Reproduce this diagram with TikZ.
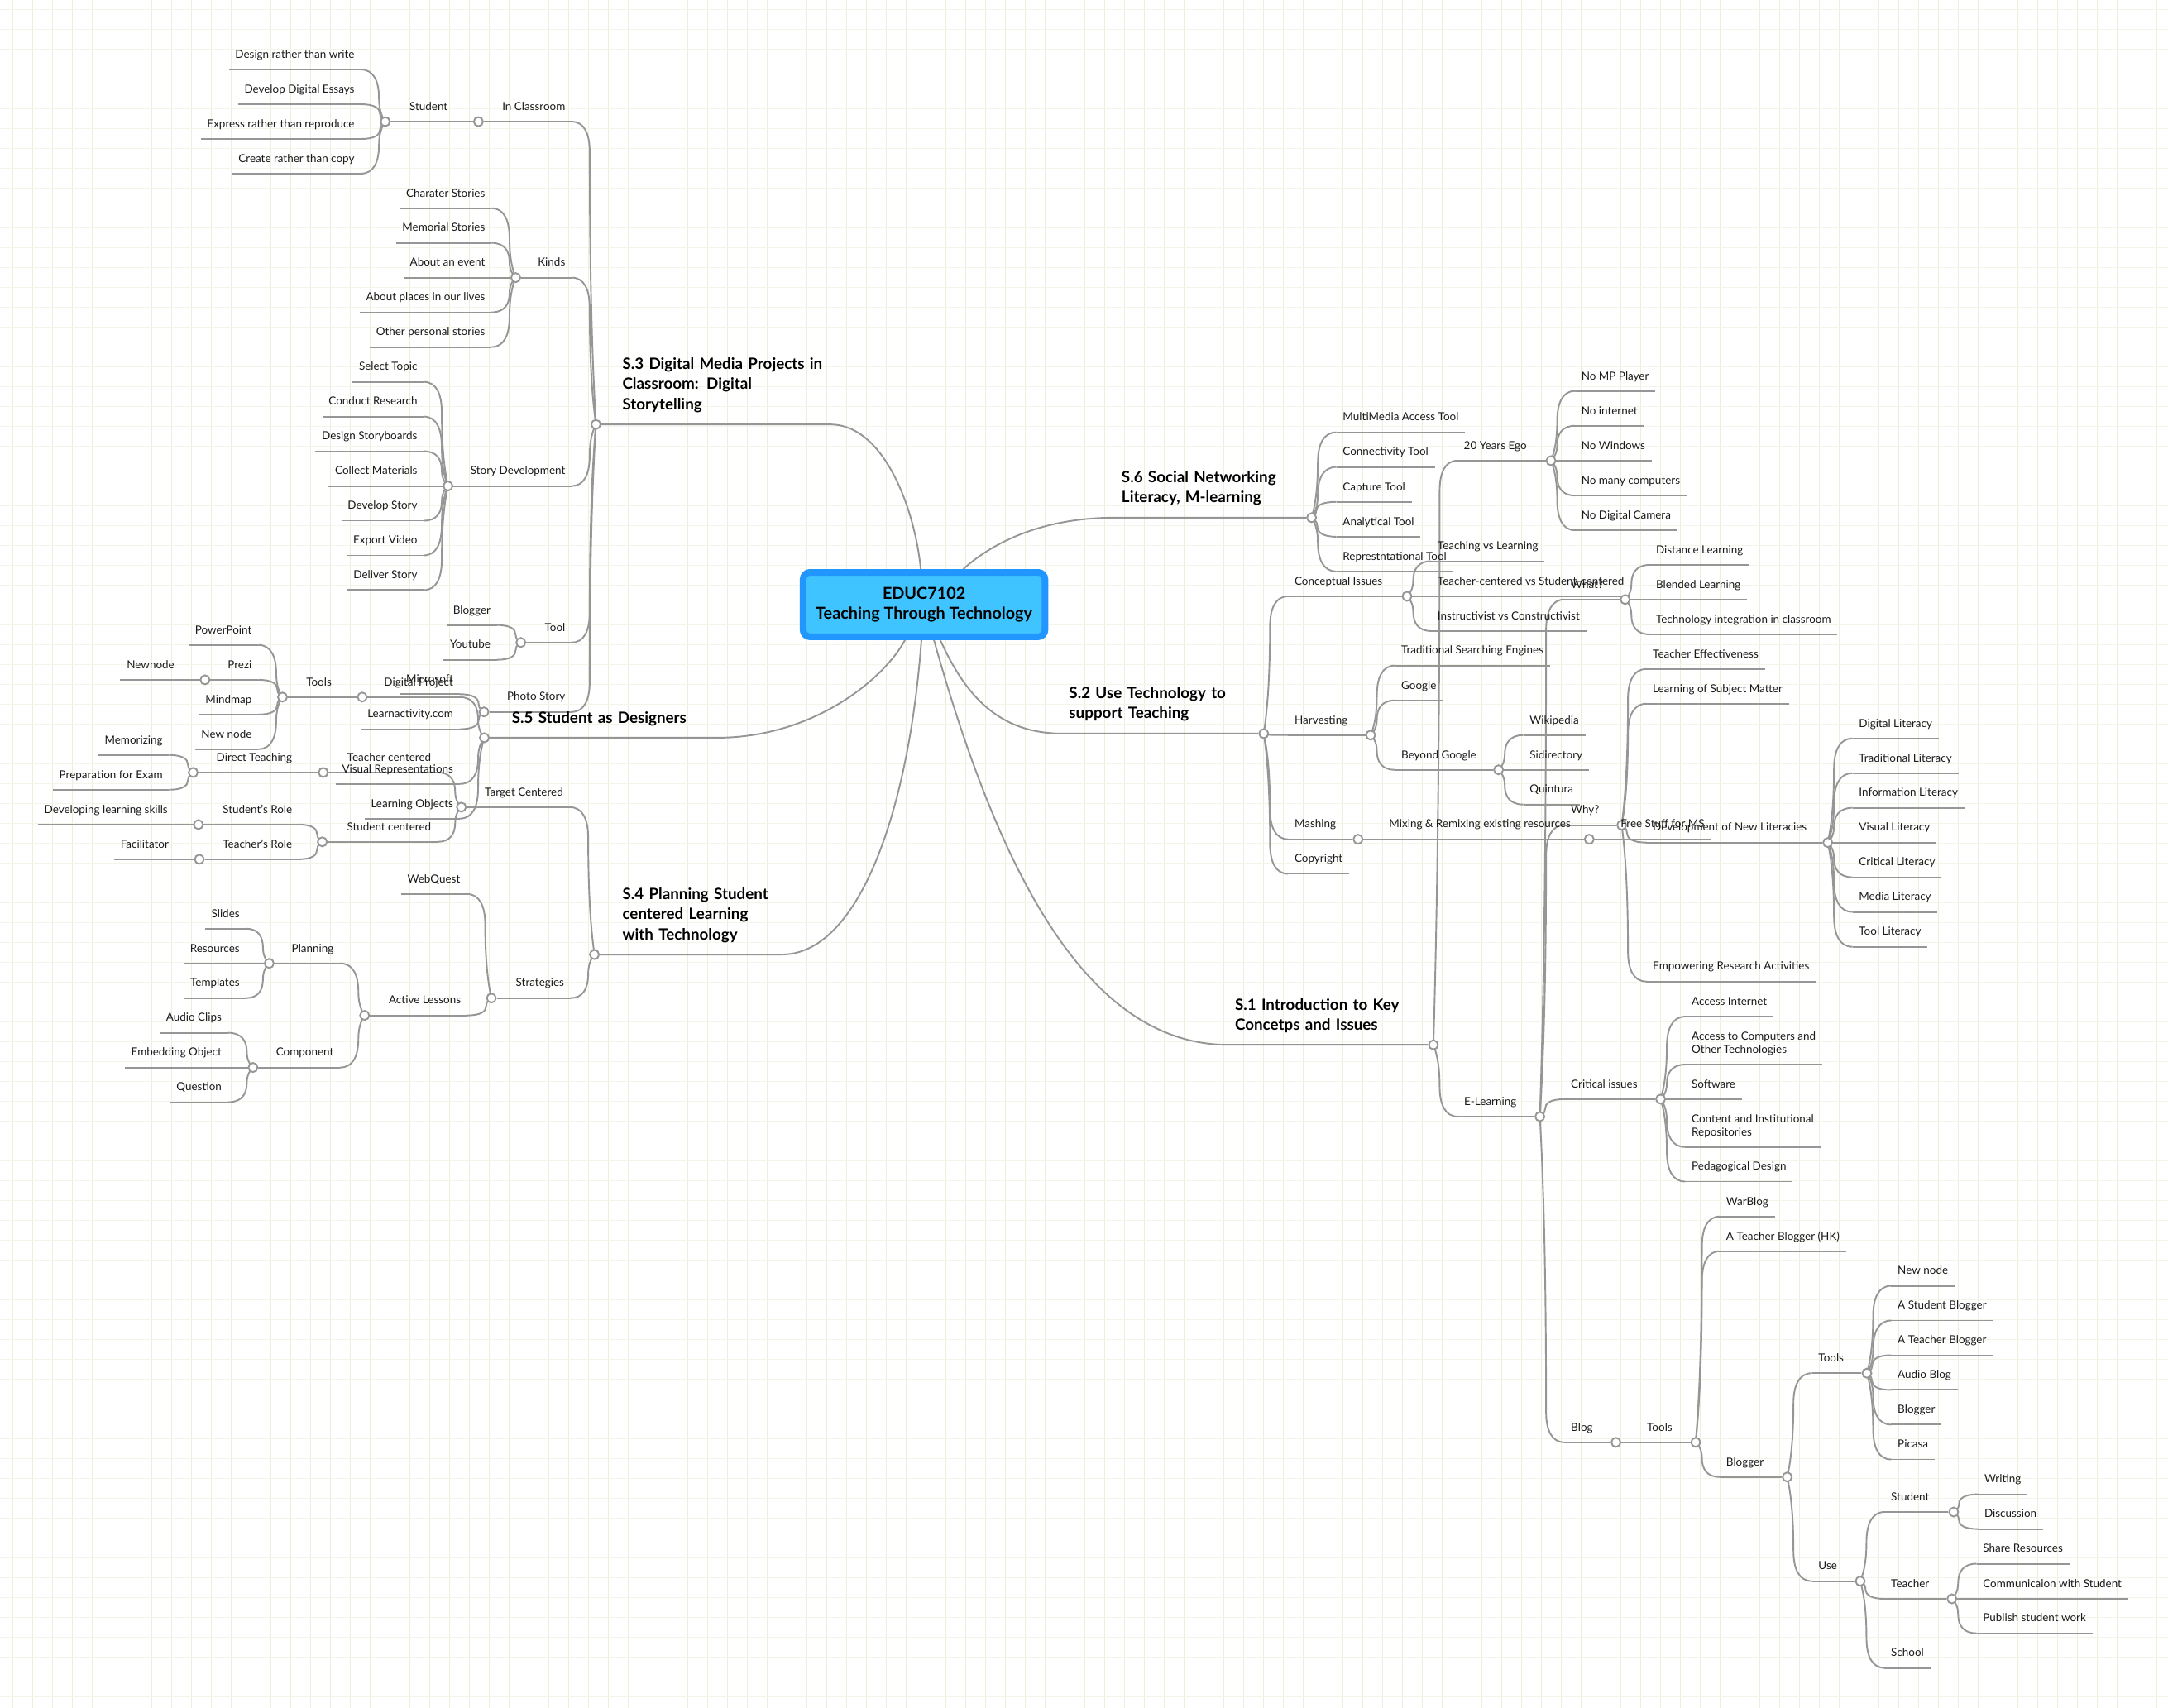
\documentclass[tikz,border=0pt]{standalone}
\usepackage{fontspec}
\setmainfont{Lato}
\usetikzlibrary{calc}
\pgfdeclarelayer{grid}
\pgfdeclarelayer{links}
\pgfsetlayers{grid,links,main}
\definecolor{linkgray}{HTML}{969696}
\definecolor{gridv}{HTML}{E9F1DC}
\definecolor{gridh}{HTML}{F2F6E9}
\definecolor{centerfill}{HTML}{40C4FF}
\definecolor{centerline}{HTML}{2196FF}
\definecolor{inkblack}{HTML}{1A1A1A}
\tikzset{
  link/.style={draw=linkgray, line width=1.15pt},
  hub/.style={circle, draw=linkgray, fill=white, line width=1.15pt, inner sep=0pt, minimum size=6.6pt},
  topic/.style={font=\fontsize{8.05}{9.5}\selectfont, text=inkblack, inner xsep=4.5pt, inner ysep=8pt, text depth=0pt},
  maintopic/.style={font=\fontsize{11.25}{14.5}\selectfont\bfseries, text=black, inner xsep=4.5pt, inner ysep=8.5pt, align=left},
  centertopic/.style={rectangle, rounded corners=5pt, draw=centerline, fill=centerfill, line width=4.8pt,
    minimum width=174.9pt, minimum height=46.6pt, font=\fontsize{11.85}{14.5}\selectfont\bfseries, align=center}
}
% curve from the near end of a topic's underline into its parent hub
\newcommand{\twig}[3]{%
  \draw[link] let \p1=(#1), \p2=(#2.south #3),
      \n1={min(22pt,.55*abs(\y1-\y2))}, \n2={\y1>\y2?1:-1}, \n3={\x1>\x2?1:-1},
      \n4={min(4.5pt,.3*abs(\y1-\y2))}, \n5={abs(\y1-\y2)-\n1} in
    (\p2) .. controls ({\x2+.7*(\x1-\x2-\n3*\n4)},\y2) and ({\x1-\n3*\n4},{\y2+\n2*.4*\n1}) ..
    ({\x1-\n3*\n4},{\y2+\n2*\n1}) .. controls ({\x1-\n3*\n4},{\y2+\n2*(\n1+.6*\n5)}) and ({\x1-.3*\n3*\n4},{\y1-\n2*.12*\n5}) .. (\p1);}
\newcommand{\under}[2]{\draw[link] (#1) -- (#2);}
% links wait here and all go on their layer at the end
\gdef\linklist{}
\newcommand{\addlink}[1]{\xdef\linklist{\unexpanded\expandafter{\linklist}#1}}
% parent, name, x, y, text
\newcommand{\leafL}[5]{\node[topic,anchor=south east] (#2) at (#3,#4) {#5};
  \addlink{\noexpand\twig{#1}{#2}{east}\noexpand\under{#2.south west}{#2.south east}}}
\newcommand{\leafR}[5]{\node[topic,anchor=south west] (#2) at (#3,#4) {#5};
  \addlink{\noexpand\twig{#1}{#2}{west}\noexpand\under{#2.south west}{#2.south east}}}
% parent, name, x, y, text, x of own hub
\newcommand{\forkL}[6]{\node[topic,anchor=south east] (#2) at (#3,#4) {#5};
  \node[hub] (#2h) at (#6,#4) {};
  \addlink{\noexpand\twig{#1}{#2}{east}\noexpand\under{#2h}{#2.south east}}}
\newcommand{\forkR}[6]{\node[topic,anchor=south west] (#2) at (#3,#4) {#5};
  \node[hub] (#2h) at (#6,#4) {};
  \addlink{\noexpand\twig{#1}{#2}{west}\noexpand\under{#2h}{#2.south west}}}
\newcommand{\twolines}[2]{\vbox{\baselineskip=9.5pt\hbox{#1}\hbox{#2}}}
\begin{document}
\begin{tikzpicture}[x=1pt,y=-1pt]
\useasboundingbox (0,0) rectangle (1568,1235.35);
\begin{pgfonlayer}{grid}
\fill[white] (0,0) rectangle (1568,1235.35);
\foreach \i in {0,...,108}{\draw[gridv,line width=.6pt] ({9.57+14.357*\i},0) -- ++(0,1235.35);}
\foreach \i in {0,...,85}{\draw[gridh,line width=.6pt] (0,{7.18+14.357*\i}) -- ++(1568,0);}
\end{pgfonlayer}

\node[centertopic] (center) at (668.3,437.3) {EDUC7102\\Teaching Through Technology};

% main topics
\node[maintopic,anchor=south west,text width=145.5pt] (s3) at (445.5,307) {S.3 Digital Media Projects in\\Classroom: Digital\\Storytelling};
\node[hub] (s3h) at (431,307) {};
\node[maintopic,anchor=south west,text width=145pt] (s5) at (365.5,533.6) {S.5 Student as Designers};
\node[hub] (s5h) at (350.3,533.6) {};
\node[maintopic,anchor=south west,text width=110.5pt] (s4) at (445.5,690.4) {S.4 Planning Student\\centered Learning\\with Technology};
\node[hub] (s4h) at (429.9,690.4) {};
\node[maintopic,anchor=south west,text width=140pt] (s6) at (806.5,374.4) {S.6 Social Networking\\Literacy, M-learning};
\node[hub] (s6h) at (948.6,374.4) {};
\node[maintopic,anchor=south west,text width=140pt] (s2) at (768.5,530.6) {S.2 Use Technology to\\support Teaching};
\node[hub] (s2h) at (914,530.6) {};
\node[maintopic,anchor=south west,text width=140pt] (s1) at (888.5,755.7) {S.1 Introduction to Key\\Concetps and Issues};
\node[hub] (s1h) at (1036.7,755.7) {};

% S.3
\forkL{s3h}{classroom}{413.5}{88}{In Classroom}{346}
\forkL{classroomh}{student}{328.5}{88}{Student}{278.6}
\foreach \k/\ypos/\txt in {a/50.3/Design rather than write,b/75.4/Develop Digital Essays,c/100.5/Express rather than reproduce,d/125.6/Create rather than copy}{
  \leafL{studenth}{st\k}{261}{\ypos}{\txt}}
\forkL{s3h}{kinds}{413.5}{200.8}{Kinds}{373}
\foreach \k/\ypos/\txt in {a/150.6/Charater Stories,b/175.7/Memorial Stories,c/200.8/About an event,d/225.9/About places in our lives,e/251/Other personal stories}{
  \leafL{kindsh}{kd\k}{355.5}{\ypos}{\txt}}
\forkL{s3h}{storydev}{413.5}{351.5}{Story Development}{324}
\foreach \k/\ypos/\txt in {a/276.2/Select Topic,b/301.3/Conduct Research,c/326.4/Design Storyboards,d/351.5/Collect Materials,e/376.6/Develop Story,f/401.7/Export Video,g/426.8/Deliver Story}{
  \leafL{storydevh}{sd\k}{306.5}{\ypos}{\txt}}
\forkL{s3h}{tool}{413.5}{464.7}{Tool}{376.7}
\leafL{toolh}{blogger}{359.5}{452.1}{Blogger}
\leafL{toolh}{youtube}{359.5}{477.2}{Youtube}
\forkL{s3h}{photostory}{413.5}{514.9}{Photo Story}{350}
\leafL{photostoryh}{microsoft}{332.5}{502.1}{Microsoft}
\leafL{photostoryh}{learnactivity}{332.5}{527.4}{Learnactivity.com}

% S.5
\forkL{s5h}{digproject}{332.5}{504.2}{Digital Project}{262}
\forkL{digprojecth}{ltools}{244.5}{504.2}{Tools}{204.3}
\leafL{ltoolsh}{powerpoint}{186.8}{466.5}{PowerPoint}
\forkL{ltoolsh}{prezi}{186.8}{491.7}{Prezi}{148.3}
\leafL{prezih}{newnodeb}{130.8}{491.7}{Newnode}
\leafL{ltoolsh}{mindmap}{186.8}{516.8}{Mindmap}
\leafL{ltoolsh}{newnodec}{186.8}{541.9}{New node}
\leafL{s5h}{visualrep}{332.5}{567}{Visual Representations}
\leafL{s5h}{learnobj}{332.5}{592.1}{Learning Objects}

% S.4
\forkL{s4h}{target}{412}{583.8}{Target Centered}{333.7}
\forkL{targeth}{teachercen}{316.5}{558.7}{Teacher centered}{233.8}
\forkL{teachercenh}{direct}{216}{558.7}{Direct Teaching}{139.7}
\leafL{directh}{memorizing}{122.3}{546.1}{Memorizing}
\leafL{directh}{prepexam}{122.3}{571.2}{Preparation for Exam}
\forkL{targeth}{studentcen}{316.5}{608.9}{Student centered}{233.1}
\forkL{studentcenh}{srole}{216}{596.4}{Student's Role}{143.5}
\leafL{sroleh}{devskills}{126}{596.4}{Developing learning skills}
\forkL{studentcenh}{trole}{216}{621.5}{Teacher's Role}{144.2}
\leafL{troleh}{facilitator}{126.7}{621.5}{Facilitator}
\forkL{s4h}{strategies}{412.7}{721.9}{Strategies}{355.4}
\leafL{strategiesh}{webquest}{337.5}{646.6}{WebQuest}
\forkL{strategiesh}{active}{338}{734.4}{Active Lessons}{263.7}
\forkL{activeh}{planning}{246}{696.8}{Planning}{194.7}
\foreach \k/\ypos/\txt in {a/671.7/Slides,b/696.8/Resources,c/721.9/Templates}{
  \leafL{planningh}{pl\k}{178}{\ypos}{\txt}}
\forkL{activeh}{component}{246}{772.1}{Component}{183}
\foreach \k/\ypos/\txt in {a/747/Audio Clips,b/772.1/Embedding Object,c/797.2/Question}{
  \leafL{componenth}{cp\k}{165}{\ypos}{\txt}}

% S.6
\foreach \k/\ypos/\txt in {a/312.7/MultiMedia Access Tool,b/337.8/Connectivity Tool,c/363/Capture Tool,d/388.2/Analytical Tool,e/413.3/Represtntational Tool}{
  \leafR{s6h}{nt\k}{966.5}{\ypos}{\txt}}

% S.2
\forkR{s2h}{conceptual}{931.6}{431.3}{Conceptual Issues}{1017.6}
\foreach \k/\ypos/\txt in {a/405.9/Teaching vs Learning,b/431.3/Teacher-centered vs Student-centered,c/456.4/Instructivist vs Constructivist}{
  \leafR{conceptualh}{ci\k}{1035}{\ypos}{\txt}}
\forkR{s2h}{harvesting}{931.6}{531.7}{Harvesting}{991.3}
\leafR{harvestingh}{tradsearch}{1008.8}{481.4}{Traditional Searching Engines}
\leafR{harvestingh}{google}{1008.8}{506.6}{Google}
\forkR{harvestingh}{beyond}{1008.8}{556.8}{Beyond Google}{1083.8}
\foreach \k/\ypos/\txt in {a/531.7/Wikipedia,b/556.8/Sidirectory,c/581.9/Quintura}{
  \leafR{beyondh}{bg\k}{1101.7}{\ypos}{\txt}}
\forkR{s2h}{mashing}{931.6}{607}{Mashing}{982.2}
\forkR{mashingh}{remix}{1000}{607}{Mixing \& Remixing existing resources}{1149.4}
\leafR{s2h}{copyright}{931.6}{632}{Copyright}

% S.1
\forkR{s1h}{twentyyears}{1054}{333.2}{20 Years Ego}{1121.7}
\foreach \k/\ypos/\txt in {a/282.8/No MP Player,b/308/No internet,c/333.2/No Windows,d/358.4/No many computers,e/383.5/No Digital Camera}{
  \leafR{twentyyearsh}{ye\k}{1139}{\ypos}{\txt}}
\forkR{s1h}{elearning}{1054.3}{807.6}{E-Learning}{1113.7}
\forkR{elearningh}{what}{1131.5}{433.6}{What?}{1175.4}
\foreach \k/\ypos/\txt in {a/408.6/Distance Learning,b/433.6/Blended Learning,c/458.8/Technology integration in classroom}{
  \leafR{whath}{wh\k}{1193}{\ypos}{\txt}}
\forkR{elearningh}{why}{1131.5}{596.8}{Why?}{1172.9}
\leafR{remixh}{freestuff}{1167.5}{607}{Free Stuff for MS}
\leafR{whyh}{effectiveness}{1190.7}{483.9}{Teacher Effectiveness}
\leafR{whyh}{subject}{1190.7}{509}{Learning of Subject Matter}
\forkR{whyh}{newlit}{1190.7}{609.4}{Development of New Literacies}{1321.9}
\leafR{whyh}{empowering}{1190.7}{709.9}{Empowering Research Activities}
\foreach \k/\ypos/\txt in {a/534.1/Digital Literacy,b/559.2/Traditional Literacy,c/584.3/Information Literacy,d/609.4/Visual Literacy,e/634.5/Critical Literacy,f/659.6/Media Literacy,g/684.8/Tool Literacy}{
  \leafR{newlith}{li\k}{1339.8}{\ypos}{\txt}}
\forkR{elearningh}{critical}{1131.5}{795}{Critical issues}{1201}
\leafR{criticalh}{internet}{1218.8}{735.3}{Access Internet}
\leafR{criticalh}{computers}{1218.8}{770}{\twolines{Access to Computers and}{Other Technologies}}
\leafR{criticalh}{software}{1218.8}{795}{Software}
\leafR{criticalh}{repositories}{1218.8}{829.6}{\twolines{Content and Institutional}{Repositories}}
\leafR{criticalh}{pedagogical}{1218.8}{854.6}{Pedagogical Design}
\forkR{elearningh}{blog}{1131.5}{1043.2}{Blog}{1168.7}
\forkR{blogh}{btools}{1186.5}{1043.2}{Tools}{1226.4}
\leafR{btoolsh}{warblog}{1243.8}{879.9}{WarBlog}
\leafR{btoolsh}{hkblogger}{1243.8}{905}{A Teacher Blogger (HK)}
\forkR{btoolsh}{bloggerb}{1243.8}{1068.3}{Blogger}{1292.6}
\forkR{bloggerbh}{ctools}{1310.5}{993.2}{Tools}{1350.2}
\foreach \k/\ypos/\txt in {a/930/New node,b/955.1/A Student Blogger,c/980.2/A Teacher Blogger,d/1005.3/Audio Blog,e/1030.4/Blogger,f/1055.6/Picasa}{
  \leafR{ctoolsh}{ct\k}{1367.8}{\ypos}{\txt}}
\forkR{bloggerbh}{use}{1310.5}{1143.6}{Use}{1345.4}
\forkR{useh}{ustudent}{1363}{1093.6}{Student}{1413}
\leafR{ustudenth}{writing}{1430.5}{1080.8}{Writing}
\leafR{ustudenth}{discussion}{1430.5}{1105.9}{Discussion}
\forkR{useh}{uteacher}{1363}{1156.4}{Teacher}{1411.7}
\foreach \k/\ypos/\txt in {a/1131/Share Resources,b/1156.4/Communicaion with Student,c/1181.3/Publish student work}{
  \leafR{uteacherh}{ut\k}{1429.5}{\ypos}{\txt}}
\leafR{useh}{school}{1363}{1206.4}{School}

\begin{pgfonlayer}{links}
\draw[link] (s3h) -- (s3.south east) .. controls (640,307) and (662,370) .. (center);
\draw[link] (s5h) -- (s5.south east) .. controls (590,533) and (640,490) .. (center);
\draw[link] (s4h) -- (s4.south east) .. controls (620,690.4) and (657,590) .. (center);
\draw[link] (s6h) -- (s6.south west) .. controls (750,374.4) and (715,395) .. (center);
\draw[link] (s2h) -- (s2.south west) .. controls (720,530.6) and (697,500) .. (center);
\draw[link] (s1h) -- (s1.south west) .. controls (790,755.7) and (725,640) .. (center);
\linklist
\end{pgfonlayer}
\end{tikzpicture}
\end{document}
